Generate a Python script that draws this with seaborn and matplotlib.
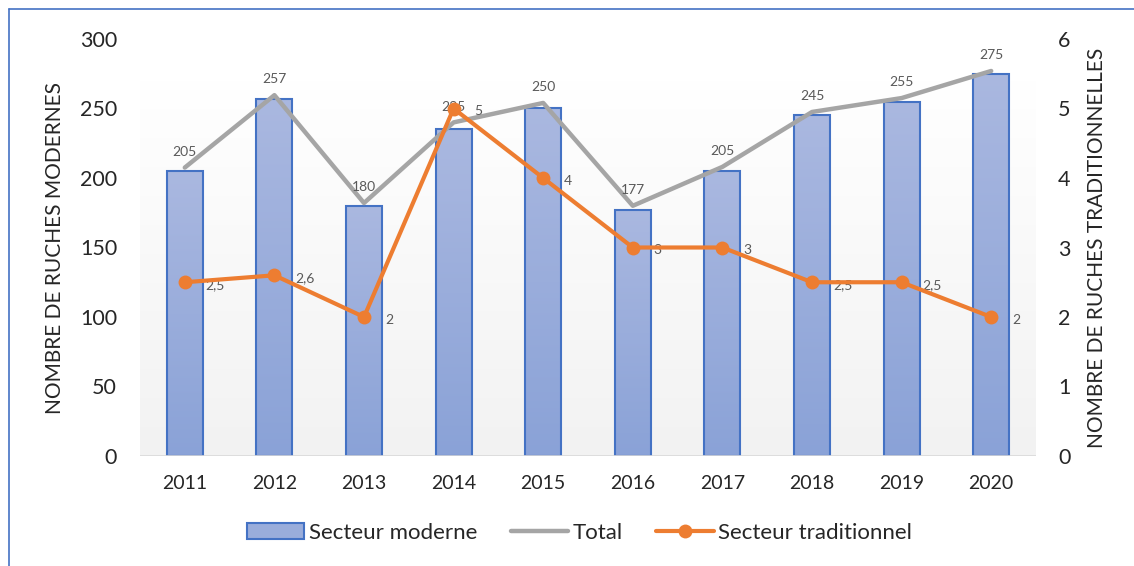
import numpy as np
import pandas as pd
import matplotlib.pyplot as plt
import seaborn as sns
from matplotlib.lines import Line2D
from matplotlib.patches import Patch

### data
years = ['2011', '2012', '2013', '2014', '2015', '2016', '2017', '2018', '2019', '2020']
moderne = [205, 257, 180, 235, 250, 177, 205, 245, 255, 275]
traditionnel = [2.5, 2.6, 2, 5, 4, 3, 3, 2.5, 2.5, 2]
total = [207.5, 259.6, 182, 240, 254, 180, 208, 247.5, 257.5, 277]

df = pd.DataFrame({'annee': years, 'moderne': moderne,
                   'traditionnel': traditionnel, 'total': total})

sns.set_style('white')
plt.rcParams['font.family'] = ['Lato', 'DejaVu Sans']

blue_edge = '#4472c4'
gray = '#a5a5a5'
orange = '#ed7d31'
lab_col = '#595959'

fig = plt.figure(figsize=(11.34, 5.66), dpi=100)
ax = fig.add_axes([140/1134, 1-456/566, 896/1134, 417/566])
ax2 = ax.twinx()

# plot area gradient background
grad = np.linspace(0, 1, 256).reshape(-1, 1)
ax.imshow(grad, cmap=plt.matplotlib.colors.LinearSegmentedColormap.from_list('bg', ['#f2f2f2', '#ffffff']),
          extent=[-0.5, 9.5, 0, 270], origin='lower', aspect='auto', zorder=0)

### bars
sns.barplot(data=df, x='annee', y='moderne', ax=ax, width=0.4, color='#9aaddb',
            edgecolor=blue_edge, linewidth=1.5, zorder=2)
bar_cmap = plt.matplotlib.colors.LinearSegmentedColormap.from_list('bar', ['#8aa2d7', '#aab8e0'])
for p in ax.patches:
    x0, w, h = p.get_x(), p.get_width(), p.get_height()
    im = ax.imshow(grad, cmap=bar_cmap, extent=[x0, x0 + w, 0, h], origin='lower',
                   aspect='auto', zorder=2.1)
    im.set_clip_path(p)
    p.set_facecolor('none')
    p.set_zorder(2.2)

### total line
sns.lineplot(data=df, x='annee', y='total', ax=ax, color=gray, lw=3.2, zorder=3,
             sort=False)
for i, (t, m) in enumerate(zip(total, moderne)):
    ax.annotate(str(m), (i, t), xytext=(0, 7), textcoords='offset points',
                ha='center', va='bottom', fontsize=10, color=lab_col, zorder=6)

### traditional line
sns.lineplot(data=df, x='annee', y='traditionnel', ax=ax2, color=orange, lw=3,
             marker='o', markersize=10, markeredgewidth=0, sort=False, zorder=4)
for i, v in enumerate(traditionnel):
    s = ('%g' % v).replace('.', ',')
    ax2.annotate(s, (i, v), xytext=(15, -2), textcoords='offset points',
                 ha='left', va='center', fontsize=10, color=lab_col)

ax.set_xlim(-0.5, 9.5)
ax.set_ylim(0, 300)
ax2.set_ylim(0, 6)
ax.set_yticks(range(0, 301, 50))
ax2.set_yticks(range(0, 7))
ax.set_xlabel('')
ax.set_ylabel('NOMBRE DE RUCHES MODERNES', fontsize=15)
ax2.set_ylabel('NOMBRE DE RUCHES TRADITIONNELLES', fontsize=15, rotation=90)
ax.yaxis.set_label_coords(-0.0837, 0.5)
ax2.yaxis.set_label_coords(1.0569, 0.5)
ax.tick_params(axis='y', labelsize=15.5, length=0, pad=16.5)
ax2.tick_params(axis='y', labelsize=15.5, length=0, pad=16)
ax.tick_params(axis='x', labelsize=14, length=0, pad=14)
for a in (ax, ax2):
    for s in ['top', 'right', 'left', 'bottom']:
        a.spines[s].set_visible(False)
ax.axhline(0, color='#d9d9d9', lw=1.2, zorder=5)
ax.set_zorder(ax2.get_zorder() - 1)
ax2.patch.set_visible(False)
ax.patch.set_visible(False)

# legend
handles = [Patch(facecolor='#9aaddb', edgecolor=blue_edge, linewidth=1.5),
           Line2D([], [], color=gray, lw=3.2),
           Line2D([], [], color=orange, lw=3, marker='o', markersize=10, markeredgewidth=0)]
fig.legend(handles, ['Secteur moderne', 'Total', 'Secteur traditionnel'], loc='center',
           bbox_to_anchor=(0.511, 1-533/566), ncol=3, frameon=False, fontsize=16,
           handlelength=2.6, handletextpad=0.2, columnspacing=1.5)

# outer frame (left and top edges visible)
fig.add_artist(Line2D([9/1134, 9/1134], [0, 1-9/566], color=blue_edge, lw=1.2))
fig.add_artist(Line2D([9/1134, 1], [1-9/566, 1-9/566], color=blue_edge, lw=1.2))

plt.savefig('out.png', dpi=100)
